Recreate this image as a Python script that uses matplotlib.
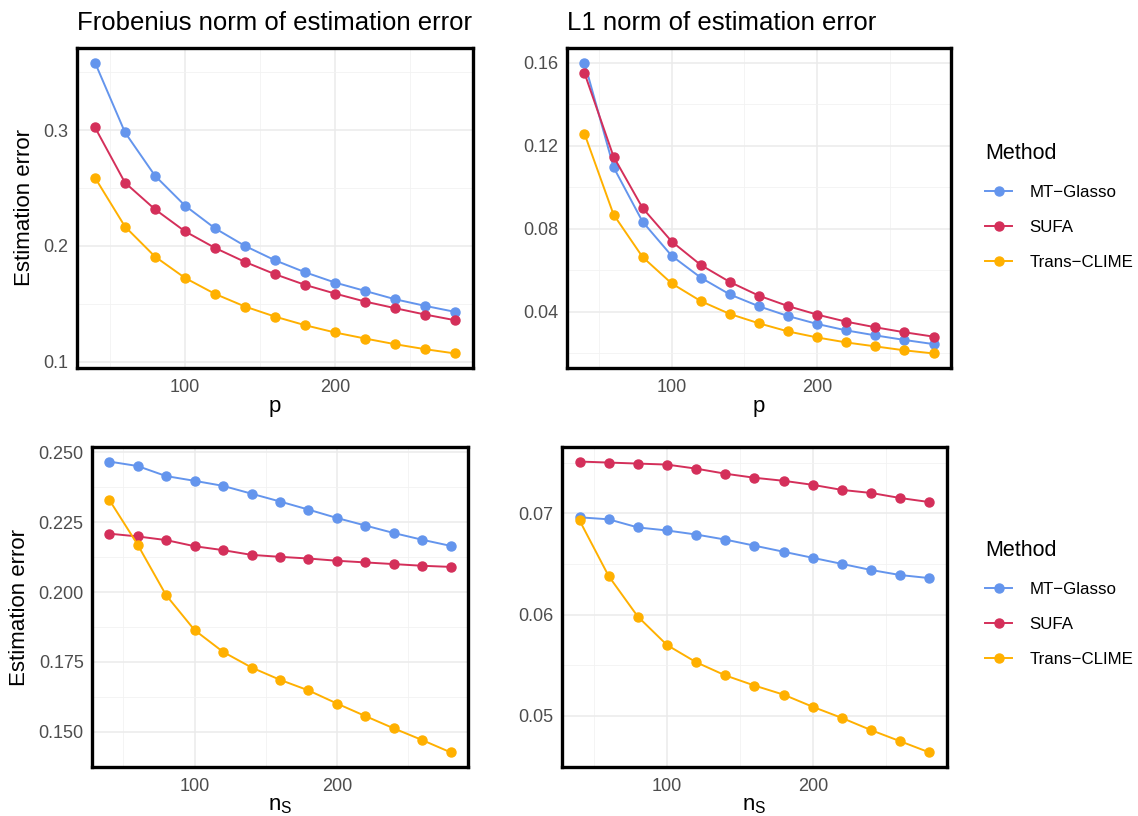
import numpy as np
import matplotlib
matplotlib.use("Agg")
from matplotlib import pyplot as plt
from matplotlib.lines import Line2D
from matplotlib.ticker import MultipleLocator

plt.rcParams['font.family'] = ['Liberation Sans', 'DejaVu Sans']

# x grid shared by all panels
x_vals = [40, 60, 80, 100, 120, 140, 160, 180, 200, 220, 240, 260, 280]
methods = ["MT\u2212Glasso", "SUFA", "Trans\u2212CLIME"]
colors = ["#6495ED", "#D42F5A", "#FFB000"]

# top-left: Frobenius norm vs p
fro_p_mt = [0.3583, 0.2980, 0.2606, 0.2348, 0.2152, 0.2000, 0.1876, 0.1773, 0.1684, 0.1612, 0.1540, 0.1483, 0.1431]
fro_p_sufa = [0.3023, 0.2546, 0.2316, 0.2126, 0.1983, 0.1862, 0.1756, 0.1664, 0.1589, 0.1520, 0.1463, 0.1408, 0.1359]
fro_p_trans = [0.2589, 0.2167, 0.1908, 0.1724, 0.1586, 0.1477, 0.1390, 0.1316, 0.1253, 0.1201, 0.1152, 0.1109, 0.1072]

# top-right: L1 norm vs p
l1_p_mt = [0.1600, 0.1096, 0.0833, 0.0669, 0.0564, 0.0483, 0.0426, 0.0379, 0.0341, 0.0310, 0.0286, 0.0264, 0.0244]
l1_p_sufa = [0.1550, 0.1147, 0.0899, 0.0738, 0.0625, 0.0543, 0.0477, 0.0427, 0.0386, 0.0352, 0.0325, 0.0301, 0.0280]
l1_p_trans = [0.1258, 0.0868, 0.0663, 0.0536, 0.0451, 0.0389, 0.0344, 0.0305, 0.0276, 0.0252, 0.0233, 0.0214, 0.0199]

# bottom-left: Frobenius norm vs n_S
fro_n_mt = [0.2467, 0.2451, 0.2415, 0.2398, 0.2380, 0.2352, 0.2324, 0.2295, 0.2265, 0.2238, 0.2211, 0.2187, 0.2165]
fro_n_sufa = [0.2209, 0.2199, 0.2186, 0.2164, 0.2150, 0.2133, 0.2126, 0.2120, 0.2112, 0.2106, 0.2100, 0.2094, 0.2090]
fro_n_trans = [0.2331, 0.2170, 0.1989, 0.1864, 0.1786, 0.1730, 0.1686, 0.1648, 0.1601, 0.1556, 0.1512, 0.1470, 0.1426]

# bottom-right: L1 norm vs n_S
l1_n_mt = [0.0696, 0.0694, 0.0686, 0.0683, 0.0679, 0.0674, 0.0668, 0.0662, 0.0656, 0.0650, 0.0644, 0.0639, 0.0636]
l1_n_sufa = [0.0751, 0.0750, 0.0749, 0.0748, 0.0744, 0.0739, 0.0735, 0.0732, 0.0728, 0.0723, 0.0720, 0.0715, 0.0711]
l1_n_trans = [0.0693, 0.0638, 0.0598, 0.0570, 0.0553, 0.0540, 0.0530, 0.0521, 0.0509, 0.0498, 0.0486, 0.0475, 0.0464]

W, H = 1138, 816
fig = plt.figure(figsize=(W / 100, H / 100), dpi=100)
fig.patch.set_facecolor("white")

def px_axes(x0, y0, x1, y1):
    return fig.add_axes([x0 / W, 1 - y1 / H, (x1 - x0) / W, (y1 - y0) / H])

def panel(ax, series, ymajor, yminor, fmt, xlabel, ylabel=None, title=None):
    for ys, c in zip(series, colors):
        ax.plot(x_vals, ys, color=c, lw=1.4, marker="o", ms=6.5, zorder=3)
    xr = max(x_vals) - min(x_vals)
    ax.set_xlim(min(x_vals) - 0.05 * xr, max(x_vals) + 0.05 * xr)
    lo = min(min(s) for s in series); hi = max(max(s) for s in series)
    yr = hi - lo
    ax.set_ylim(lo - 0.05 * yr, hi + 0.05 * yr)
    ax.xaxis.set_major_locator(MultipleLocator(100))
    ax.xaxis.set_minor_locator(MultipleLocator(50))
    ax.yaxis.set_major_locator(MultipleLocator(ymajor))
    ax.yaxis.set_minor_locator(MultipleLocator(yminor))
    ax.yaxis.set_major_formatter(fmt)
    ax.grid(which="major", color="#EBEBEB", lw=1.1, zorder=0)
    ax.grid(which="minor", color="#F2F2F2", lw=0.6, zorder=0)
    ax.set_axisbelow(True)
    ax.tick_params(which="both", length=0, labelsize=13, labelcolor="#4D4D4D")
    ax.tick_params(axis="x", pad=8)
    ax.tick_params(axis="y", pad=6)
    for sp in ax.spines.values():
        sp.set_linewidth(2.4)
        sp.set_color("black")
    ax.set_xlabel(xlabel, fontsize=16, labelpad=0)
    if ylabel:
        ax.set_ylabel(ylabel, fontsize=16, labelpad=6)
    if title:
        ax.set_title(title, fontsize=18.5, loc="left", pad=13)

ax1 = px_axes(77, 48, 473, 368)
panel(ax1, [fro_p_mt, fro_p_sufa, fro_p_trans], 0.1, 0.05,
      lambda v, p: f"{v:.1f}", "p", "Estimation error", "Frobenius norm of estimation error")
ax2 = px_axes(567, 48, 951, 368)
panel(ax2, [l1_p_mt, l1_p_sufa, l1_p_trans], 0.04, 0.02,
      lambda v, p: f"{v:.2f}", "p", None, "L1 norm of estimation error")
ax3 = px_axes(92, 447, 468, 767)
panel(ax3, [fro_n_mt, fro_n_sufa, fro_n_trans], 0.025, 0.0125,
      lambda v, p: f"{v:.3f}", r"$\mathregular{n_S}$", "Estimation error")
ax4 = px_axes(562, 447, 947, 767)
panel(ax4, [l1_n_mt, l1_n_sufa, l1_n_trans], 0.01, 0.005,
      lambda v, p: f"{v:.2f}", r"$\mathregular{n_S}$")

handles = [Line2D([0], [0], color=c, lw=1.4, marker="o", ms=6.5) for c in colors]
for ytop in (128, 525):
    fig.legend(handles, methods, title="Method", loc="upper left",
               bbox_to_anchor=(970 / W, 1 - ytop / H), frameon=False,
               fontsize=12.2, title_fontsize=15.5, handlelength=1.6,
               handletextpad=1.0, labelspacing=1.2, alignment="left")

fig.savefig("out.png", dpi=100)
